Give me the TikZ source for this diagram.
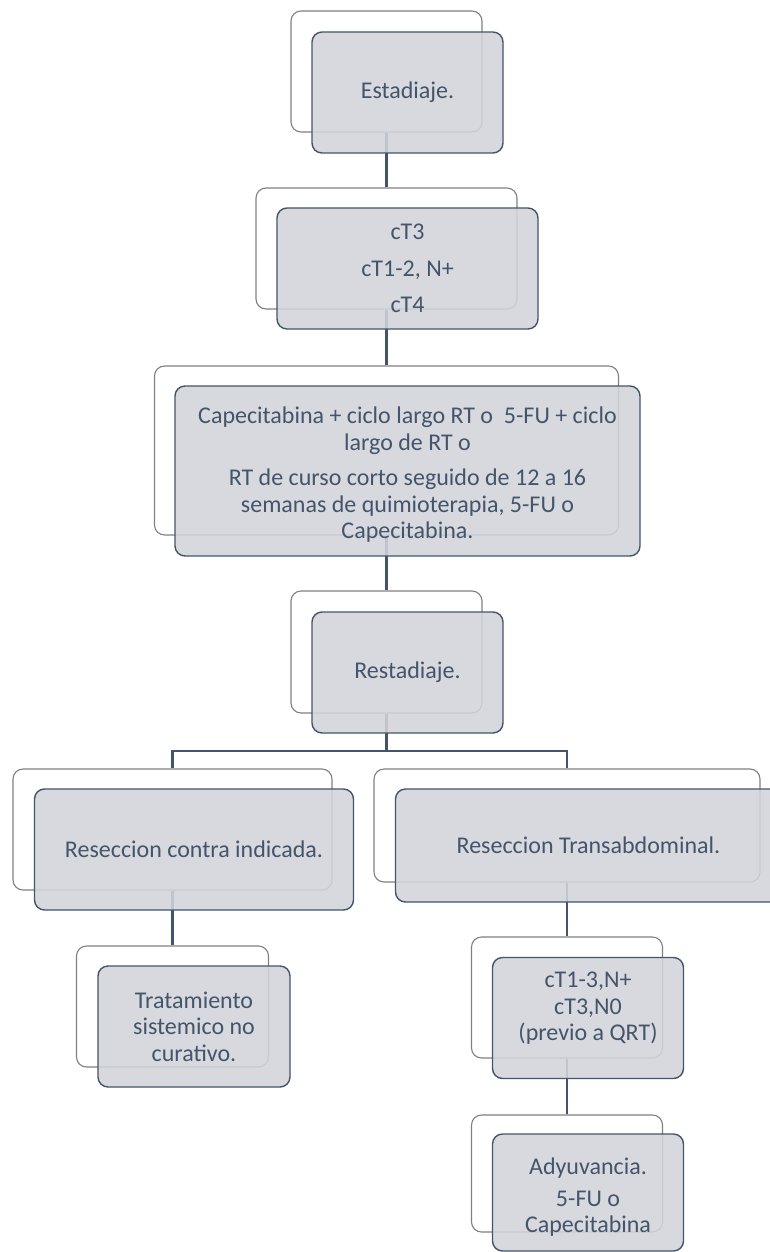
\documentclass[tikz,border=0pt]{standalone}
\usepackage{fontspec}
\setmainfont{Carlito}
\definecolor{slate}{RGB}{68,84,106}
\definecolor{boxfill}{RGB}{210,212,218}
\definecolor{backline}{RGB}{128,128,128}
\begin{document}
\begin{tikzpicture}[x=1pt,y=-1pt,
  backbox/.style={draw=backline, line width=1.1pt, fill=white, rounded corners=10pt, inner sep=0pt},
  frontbox/.style={draw=slate, line width=1.4pt, fill=boxfill, fill opacity=0.88, text opacity=1,
    rounded corners=10pt, inner sep=0pt, text=slate, align=center,
    font=\fontsize{24}{26.5}\selectfont},
  conn/.style={draw=slate, line width=2.6pt}]
\clip (0,0) rectangle (770,1252);
% back boxes
\node[backbox, minimum width=191pt, minimum height=121pt] (b1) at (386.5,71.5) {};
\node[backbox, minimum width=261pt, minimum height=121pt] (b2) at (386.5,248.5) {};
\node[backbox, minimum width=464pt, minimum height=169pt] (b3) at (386.5,450.5) {};
\node[backbox, minimum width=191pt, minimum height=122pt] (b4) at (386.5,652) {};
\node[backbox, minimum width=319pt, minimum height=121pt] (b5) at (172.5,829.5) {};
\node[backbox, minimum width=386pt, minimum height=113pt] (b6) at (567,825.5) {};
\node[backbox, minimum width=192pt, minimum height=121pt] (b7) at (172.5,1006.5) {};
\node[backbox, minimum width=191pt, minimum height=121pt] (b8) at (567,997.5) {};
\node[backbox, minimum width=191pt, minimum height=117pt] (b9) at (567,1173.5) {};
% connectors
\coordinate (jn) at (386.5,751);
\draw[conn] (b1.south) -- (b2.north);
\draw[conn] (b2.south) -- (b3.north);
\draw[conn] (b3.south) -- (b4.north);
\draw[conn] (b4.south) -- (jn);
\draw[conn] (b5.north) |- (jn) -| (b6.north);
\draw[conn] (b5.south) -- (b7.north);
\draw[conn] (b6.south) -- (b8.north);
\draw[conn] (b8.south) -- (b9.north);
% front boxes
\node[frontbox, minimum width=191pt, minimum height=121pt] (f1) at (407.5,92.5) {Estadiaje.};
\node[frontbox, minimum width=261pt, minimum height=121pt] (f2) at (407.5,268.5)
  {cT3\\[10pt]cT1-2, N+\\[10pt]cT4};
\node[frontbox, minimum width=465pt, minimum height=170pt] (f3) at (407.5,471)
  {\rule{0pt}{24pt}Capecitabina + ciclo largo RT o\ \ 5-FU + ciclo\\largo de RT o\\[9pt]RT de curso corto seguido de 12 a 16\\semanas de quimioterapia, 5-FU o\\Capecitabina.};
\node[frontbox, minimum width=191pt, minimum height=121pt] (f4) at (407.5,672.5) {Restadiaje.};
\node[frontbox, minimum width=319pt, minimum height=121pt] (f5) at (194,849.5) {Reseccion contra indicada.};
\node[frontbox, minimum width=386pt, minimum height=113pt] (f6) at (588.5,845.5) {Reseccion Transabdominal.};
\node[frontbox, minimum width=192pt, minimum height=121pt] (f7) at (194,1026.5)
  {Tratamiento\\sistemico no\\curativo.};
\node[frontbox, minimum width=191pt, minimum height=121pt] (f8) at (588,1018)
  {cT1-3,N+\\cT3,N0\\(previo a QRT)\rule[-23pt]{0pt}{0pt}};
\node[frontbox, minimum width=191pt, minimum height=117pt] (f9) at (588,1192.5)
  {\rule{0pt}{26pt}Adyuvancia.\\[5pt]5-FU o\\Capecitabina};
\end{tikzpicture}
\end{document}
